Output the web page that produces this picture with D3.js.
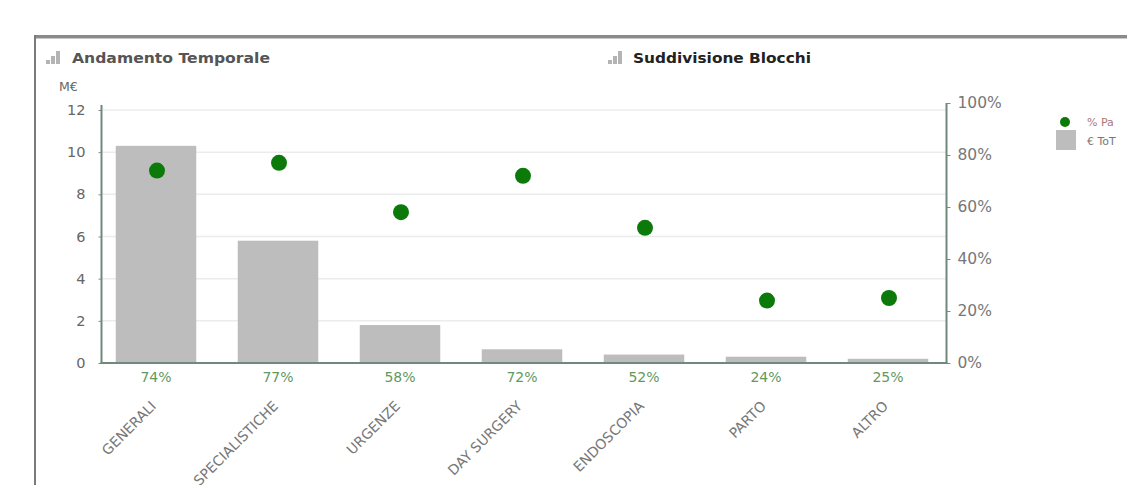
<!DOCTYPE html>
<html><head><meta charset="utf-8">
<script src="https://cdn.jsdelivr.net/npm/d3@7"></script>
<style>
html,body{margin:0;padding:0;background:#fff;}
svg{display:block;font-family:"DejaVu Sans",Verdana,sans-serif;}
</style></head>
<body><svg id="c" width="1127" height="485"></svg>
<script>
const categories = ["GENERALI","SPECIALISTICHE","URGENZE","DAY SURGERY","ENDOSCOPIA","PARTO","ALTRO"];
const totals = [10.3, 5.8, 1.8, 0.65, 0.4, 0.3, 0.2];      // M€
const percents = [74, 77, 58, 72, 52, 24, 25];              // %
const leftTicks = [0, 2, 4, 6, 8, 10, 12];
const rightTicks = [0, 20, 40, 60, 80, 100];
const legendLabels = ["% Pa", "€ ToT"];

const svg = d3.select("#c");

// frame
svg.append("rect").attr("x",35).attr("y",35).attr("width",1100).attr("height",3).attr("fill","#8a8a8a");
svg.append("rect").attr("x",35).attr("y",38).attr("width",1100).attr("height",1).attr("fill","#c8c8c8");
svg.append("rect").attr("x",34).attr("y",35).attr("width",2).attr("height",460).attr("fill","#7a7a7a");

// title icons
function icon(x,y){
  const g = svg.append("g").attr("transform",`translate(${x},${y})`).attr("fill","#b4b4b4");
  [[0,9,4,4],[5,5,4,8],[10,0,4,13]].forEach(r=>g.append("rect").attr("x",r[0]).attr("y",r[1]).attr("width",r[2]).attr("height",r[3]));
}
icon(46,51); icon(608,51);
svg.append("text").attr("x",72).attr("y",63).attr("font-size",14.5).attr("font-weight","bold")
  .attr("fill","#555").attr("textLength",198).attr("lengthAdjust","spacingAndGlyphs").text("Andamento Temporale");
svg.append("text").attr("x",633).attr("y",63).attr("font-size",14.5).attr("font-weight","bold")
  .attr("fill","#222").attr("textLength",178).attr("lengthAdjust","spacingAndGlyphs").text("Suddivisione Blocchi");

const x0 = 101.5, x1 = 946.5, yBase = 363;
const x = d3.scaleBand().domain(categories).range([95, 949]).paddingInner(0.34).paddingOuter(0.17);
const yL = d3.scaleLinear().domain([0,12]).range([yBase,110]);
const yR = d3.scaleLinear().domain([0,100]).range([yBase,103]);

// gridlines
svg.append("g").selectAll("line").data(leftTicks.filter(d=>d>0)).join("line")
  .attr("x1",x0).attr("x2",x1).attr("y1",d=>yL(d)).attr("y2",d=>yL(d))
  .attr("stroke","#ececec").attr("stroke-width",1.5);

// bars
svg.append("g").selectAll("rect").data(totals).join("rect")
  .attr("x",(d,i)=>x(categories[i])).attr("width",x.bandwidth())
  .attr("y",d=>yL(d)).attr("height",d=>yBase-yL(d)).attr("fill","#bdbdbd");

// axes
const axisColor = "#6f8a7c";
const gl = svg.append("g").attr("transform",`translate(${x0},0)`)
  .call(d3.axisLeft(yL).tickValues(leftTicks).tickSizeInner(3).tickSizeOuter(0).tickPadding(13));
gl.select(".domain").remove();
gl.append("line").attr("x1",0).attr("x2",0).attr("y1",105).attr("y2",yBase).attr("stroke",axisColor).attr("stroke-width",2);
gl.selectAll(".tick line").attr("stroke","#888");
gl.selectAll(".tick text").attr("font-size",14.5).attr("fill","#666").attr("font-family","DejaVu Sans");

const gr = svg.append("g").attr("transform",`translate(${x1},0)`)
  .call(d3.axisRight(yR).tickValues(rightTicks).tickFormat(d=>d+"%").tickSizeInner(4).tickSizeOuter(0).tickPadding(7));
gr.select(".domain").remove();
gr.append("line").attr("x1",0).attr("x2",0).attr("y1",103).attr("y2",yBase).attr("stroke",axisColor).attr("stroke-width",2);
gr.selectAll(".tick line").attr("stroke","#888");
gr.selectAll(".tick text").attr("font-size",15.5).attr("fill","#777").attr("font-family","DejaVu Sans");

svg.append("line").attr("x1",x0-1).attr("x2",x1+1).attr("y1",yBase).attr("y2",yBase)
  .attr("stroke",axisColor).attr("stroke-width",2);

// percent labels below axis
svg.append("g").selectAll("text").data(percents).join("text")
  .attr("x",(d,i)=>x(categories[i])+x.bandwidth()/2).attr("y",382)
  .attr("text-anchor","middle").attr("font-size",14).attr("fill","#5f9a5f")
  .text(d=>d+"%");

// category labels
svg.append("g").selectAll("text").data(categories).join("text")
  .attr("transform",d=>`translate(${x(d)+x.bandwidth()/2+1},${407}) rotate(-45)`)
  .attr("text-anchor","end").attr("font-size",14).attr("fill","#777")
  .text(d=>d);

// dots
svg.append("g").selectAll("circle").data(percents).join("circle")
  .attr("cx",(d,i)=>x(categories[i])+x.bandwidth()/2+1).attr("cy",d=>yR(d))
  .attr("r",8).attr("fill","#0b7a0b");

// legend
svg.append("circle").attr("cx",1065).attr("cy",122).attr("r",5).attr("fill","#0b7a0b");
svg.append("rect").attr("x",1056).attr("y",130).attr("width",20).attr("height",20).attr("fill","#bdbdbd");
svg.append("text").attr("x",1087).attr("y",126).attr("font-size",11).attr("fill","#a77").text(legendLabels[0]);
svg.append("text").attr("x",1087).attr("y",145).attr("font-size",11).attr("fill","#777").text(legendLabels[1]);
svg.append("text").attr("x",59).attr("y",91).attr("font-size",12.5).attr("fill","#666").text("M€");
</script></body></html>
